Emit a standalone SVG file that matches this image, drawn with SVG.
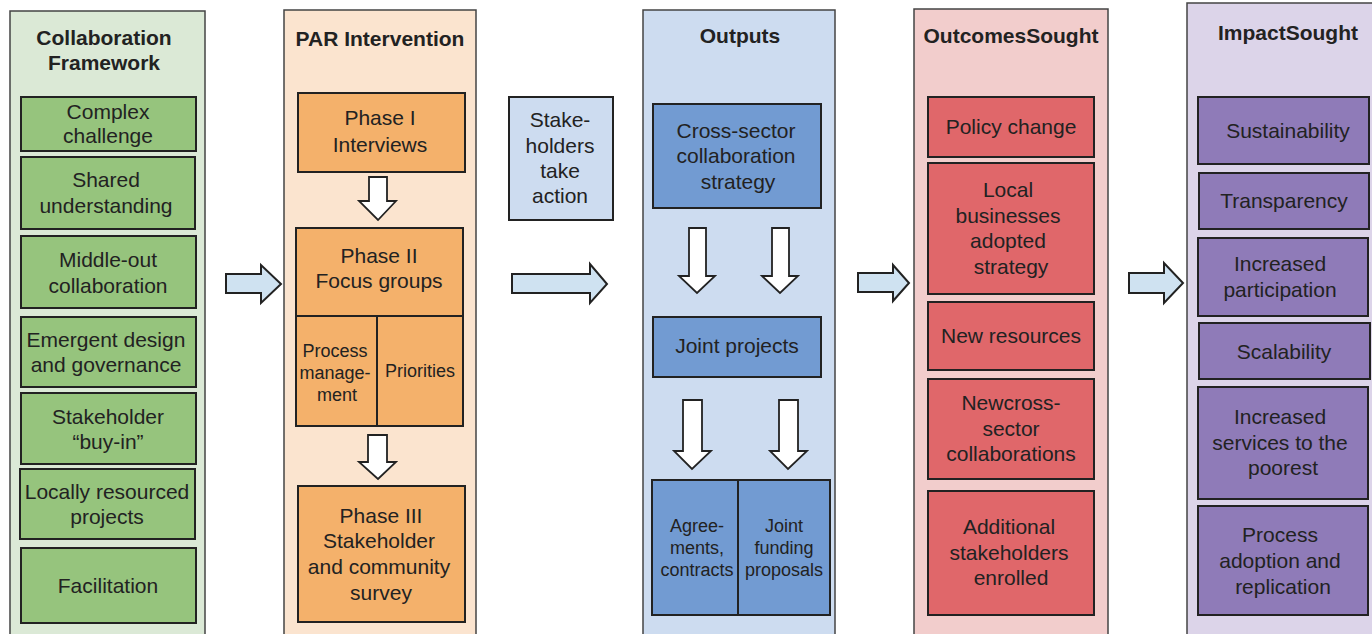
<svg xmlns="http://www.w3.org/2000/svg" width="1372" height="634" viewBox="0 0 1372 634">
<style>
text{font-family:"Liberation Sans",Arial,sans-serif;font-size:21px;fill:#222;text-anchor:middle}
.t{font-weight:bold}
.s{font-size:18px}
.col{stroke:#444;stroke-width:1.5}
.b{stroke:#222;stroke-width:2}
.c1{fill:#dbe9d6}.k1{fill:#96c47d}
.c2{fill:#fbe4cf}.k2{fill:#f4b16b}
.c3{fill:#cddcf0}.k3{fill:#729bd2}
.c4{fill:#f2cdcc}.k4{fill:#e0676a}
.c5{fill:#dcd4e9}.k5{fill:#8f7bb8}
.ha{fill:#fff;stroke:#222;stroke-width:1.8;stroke-linejoin:miter}
.ba{fill:#cfe2f1;stroke:#222;stroke-width:2}
</style>
<rect width="1372" height="634" fill="#fff"/>

<g id="col1">
<rect class="col c1" x="10" y="11" width="195" height="640"/>
<text class="t" x="104" y="45">Collaboration</text>
<text class="t" x="104" y="70">Framework</text>
</g>
<g id="n-complex"><rect class="b k1" x="21" y="97" width="175" height="54"/><text x="108" y="119">Complex</text><text x="108" y="143">challenge</text></g>
<g id="n-shared"><rect class="b k1" x="21" y="157" width="174" height="72"/><text x="106" y="187">Shared</text><text x="106" y="213">understanding</text></g>
<g id="n-middle"><rect class="b k1" x="21" y="236" width="175" height="72"/><text x="108" y="267">Middle-out</text><text x="108" y="293">collaboration</text></g>
<g id="n-emergent"><rect class="b k1" x="21" y="317" width="175" height="70"/><text x="106" y="347">Emergent design</text><text x="106" y="372">and governance</text></g>
<g id="n-buyin"><rect class="b k1" x="21" y="393" width="175" height="71"/><text x="108" y="424">Stakeholder</text><text x="108" y="449">“buy-in”</text></g>
<g id="n-local"><rect class="b k1" x="20" y="469" width="175" height="70"/><text x="107" y="499">Locally resourced</text><text x="107" y="524">projects</text></g>
<g id="n-facil"><rect class="b k1" x="21" y="548" width="175" height="75"/><text x="108" y="593">Facilitation</text></g>

<g id="col2">
<rect class="col c2" x="284" y="10" width="192" height="640"/>
<text class="t" x="380" y="46">PAR Intervention</text>
</g>
<g id="n-phase1"><rect class="b k2" x="298" y="93" width="167" height="79"/><text x="380" y="125">Phase I</text><text x="380" y="152">Interviews</text></g>
<g id="n-phase2"><rect class="b k2" x="296" y="228" width="167" height="88"/><text x="379" y="263">Phase II</text><text x="379" y="288">Focus groups</text></g>
<g id="n-process"><rect class="b k2" x="296" y="316" width="81" height="110"/><text class="s" x="335" y="357">Process</text><text class="s" x="335" y="379">manage-</text><text class="s" x="337" y="401">ment</text></g>
<g id="n-priorities"><rect class="b k2" x="377" y="316" width="86" height="110"/><text class="s" x="420" y="377">Priorities</text></g>
<g id="n-phase3"><rect class="b k2" x="298" y="486" width="167" height="136"/><text x="381" y="523">Phase III</text><text x="379" y="548">Stakeholder</text><text x="379" y="574">and community</text><text x="381" y="600">survey</text></g>

<g id="n-stake"><rect class="b c3" x="509" y="97" width="104" height="123"/><text x="560" y="127">Stake-</text><text x="560" y="153">holders</text><text x="560" y="178">take</text><text x="560" y="203">action</text></g>

<g id="col3">
<rect class="col c3" x="643" y="10" width="192" height="640"/>
<text class="t" x="740" y="43">Outputs</text>
</g>
<g id="n-cross"><rect class="b k3" x="653" y="104" width="168" height="104"/><text x="736" y="138">Cross-sector</text><text x="736" y="163">collaboration</text><text x="738" y="189">strategy</text></g>
<g id="n-joint"><rect class="b k3" x="653" y="317" width="168" height="60"/><text x="737" y="353">Joint projects</text></g>
<g id="n-agree"><rect class="b k3" x="652" y="480" width="86" height="135"/><text class="s" x="697" y="532">Agree-</text><text class="s" x="697" y="554">ments,</text><text class="s" x="697" y="576">contracts</text></g>
<g id="n-funding"><rect class="b k3" x="738" y="480" width="92" height="135"/><text class="s" x="784" y="532">Joint</text><text class="s" x="784" y="554">funding</text><text class="s" x="784" y="576">proposals</text></g>

<g id="col4">
<rect class="col c4" x="914" y="9" width="194" height="640"/>
<text class="t" x="1011" y="43">OutcomesSought</text>
</g>
<g id="n-policy"><rect class="b k4" x="928" y="97" width="166" height="60"/><text x="1011" y="134">Policy change</text></g>
<g id="n-localbiz"><rect class="b k4" x="928" y="163" width="166" height="131"/><text x="1008" y="197">Local</text><text x="1008" y="223">businesses</text><text x="1008" y="248">adopted</text><text x="1011" y="274">strategy</text></g>
<g id="n-newres"><rect class="b k4" x="928" y="302" width="166" height="68"/><text x="1011" y="343">New resources</text></g>
<g id="n-newcross"><rect class="b k4" x="928" y="379" width="166" height="100"/><text x="1011" y="410">Newcross-</text><text x="1011" y="436">sector</text><text x="1011" y="461">collaborations</text></g>
<g id="n-additional"><rect class="b k4" x="928" y="491" width="166" height="124"/><text x="1009" y="534">Additional</text><text x="1009" y="560">stakeholders</text><text x="1011" y="585">enrolled</text></g>

<g id="col5">
<rect class="col c5" x="1187" y="3" width="200" height="650"/>
<text class="t" x="1288" y="40">ImpactSought</text>
</g>
<g id="n-sustain"><rect class="b k5" x="1198" y="97" width="171" height="67"/><text x="1288" y="138">Sustainability</text></g>
<g id="n-transp"><rect class="b k5" x="1199" y="173" width="170" height="56"/><text x="1284" y="208">Transparency</text></g>
<g id="n-particip"><rect class="b k5" x="1198" y="238" width="170" height="78"/><text x="1280" y="271">Increased</text><text x="1280" y="297">participation</text></g>
<g id="n-scal"><rect class="b k5" x="1199" y="323" width="171" height="56"/><text x="1284" y="359">Scalability</text></g>
<g id="n-services"><rect class="b k5" x="1198" y="387" width="170" height="112"/><text x="1280" y="424">Increased</text><text x="1280" y="450">services to the</text><text x="1283" y="475">poorest</text></g>
<g id="n-process2"><rect class="b k5" x="1198" y="506" width="170" height="109"/><text x="1280" y="542">Process</text><text x="1280" y="568">adoption and</text><text x="1283" y="594">replication</text></g>

<g id="connectors">
<polygon class="ba" points="226,274 261,274 261,265 281,284 261,303 261,293 226,293"/>
<polygon class="ba" points="512,274 590,274 590,264 607,284 590,303 590,293 512,293"/>
<polygon class="ba" points="858,273 893,273 893,265 909,283 893,301 893,292 858,292"/>
<polygon class="ba" points="1129,273 1164,273 1164,263 1183,283 1164,303 1164,293 1129,293"/>
<polygon class="ha" points="369,177 387,177 387,201 396,201 378,220 359,201 369,201"/>
<polygon class="ha" points="368,435 387,435 387,462 396,462 378,479 359,462 368,462"/>
<polygon class="ha" points="689,228 706,228 706,276 715,276 697,293 679,276 689,276"/>
<polygon class="ha" points="772,228 789,228 789,276 798,276 780,293 762,276 772,276"/>
<polygon class="ha" points="683,400 702,400 702,451 711,451 692,469 674,451 683,451"/>
<polygon class="ha" points="779,400 798,400 798,451 807,451 788,469 770,451 779,451"/>
</g>
</svg>
